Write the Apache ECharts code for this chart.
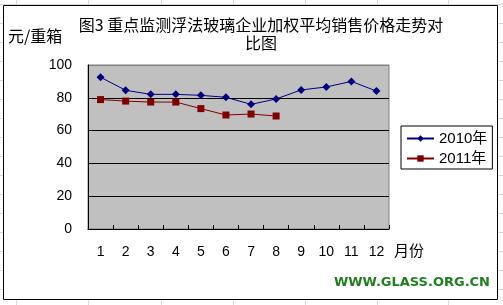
<!DOCTYPE html>
<html><head><meta charset="utf-8">
<script src="https://cdn.jsdelivr.net/npm/echarts@6/dist/echarts.min.js"></script>
<style>html,body{margin:0;padding:0;background:#fff}#c{width:503px;height:305px}</style>
</head><body><div id="c"></div>
<script>
const months = ['1','2','3','4','5','6','7','8','9','10','11','12'];
const series2010 = [92.5,84.6,82.1,82.1,81.5,80.3,76.0,79.3,84.8,86.6,90.0,84.1];
const series2011 = [78.9,78.0,77.4,77.4,73.4,69.5,70.1,68.9];
const seriesNames = ['2010年','2011年'];
const yMin = 0, yMax = 100, yStep = 20;

const FONT = 'Liberation Sans, "Noto Sans CJK SC", sans-serif';
const bg = [];
const rowYs = [4.5,23.5,42.5,61.5,80.5,99.5,118.5,137.5,156.5,175.5,194.5,213.5,232.5,251.5,270.5,289.5];
rowYs.forEach(y => bg.push({type:'line', z:-20, shape:{x1:0,y1:y,x2:503,y2:y}, style:{stroke:'#d8d8d8', lineWidth:1}}));
[16.5,88.5,161.5,233.5,305.5,377.5,448.5].forEach(x => bg.push({type:'line', z:-20, shape:{x1:x,y1:0,x2:x,y2:305}, style:{stroke:'#d8d8d8', lineWidth:1}}));
bg.push({type:'rect', z:-10, shape:{x:3.5,y:5.5,width:494,height:294}, style:{fill:'#fff', stroke:'#000', lineWidth:1}});

const chart = echarts.init(document.getElementById('c'));
chart.setOption({
  animation:false,
  textStyle:{fontFamily:FONT},
  title:{
    text:'图3 重点监测浮法玻璃企业加权平均销售价格走势对\n比图',
    left:256, top:11, textAlign:'center',
    textStyle:{fontSize:16, fontWeight:'normal', color:'#000', lineHeight:18, fontFamily:'"Noto Sans CJK SC", sans-serif'}
  },
  legend:{
    orient:'vertical', left:401, top:126,
    data:seriesNames,
    backgroundColor:'#fff', borderColor:'#000', borderWidth:1, borderRadius:0,
    padding:[5,5,3,5], itemGap:5, itemWidth:27, itemHeight:8,
    textStyle:{fontSize:15, color:'#000', fontFamily:FONT}
  },
  grid:{left:88, right:114, top:65, bottom:76, show:true, backgroundColor:'#c0c0c0', borderColor:'#808080', borderWidth:1},
  xAxis:{
    type:'category', data:months, boundaryGap:true,
    axisLine:{lineStyle:{color:'#000', width:1}},
    axisTick:{show:true, inside:true, length:4, lineStyle:{color:'#000'}},
    axisLabel:{fontSize:14, color:'#000', margin:16, fontFamily:FONT}
  },
  yAxis:{
    type:'value', min:yMin, max:yMax, interval:yStep,
    axisLine:{show:true, lineStyle:{color:'#000', width:1}},
    axisTick:{show:false},
    axisLabel:{fontSize:14, color:'#000', margin:16, fontFamily:FONT},
    splitLine:{show:true, lineStyle:{color:['#000','#000','#000','#000','#000','#808080'], width:1}}
  },
  series:[
    {name:seriesNames[0], type:'line', data:series2010, symbol:'diamond', symbolSize:8,
     itemStyle:{color:'#000080'}, lineStyle:{color:'#000080', width:1}},
    {name:seriesNames[1], type:'line', data:series2011, symbol:'rect', symbolSize:7,
     itemStyle:{color:'#800000'}, lineStyle:{color:'#800000', width:1}}
  ],
  graphic:bg.concat([
    {type:'text', z:100, left:8, top:28, style:{text:'元/重箱', fill:'#000', font:'16px "Noto Sans CJK SC", sans-serif'}},
    {type:'text', z:100, left:394, top:243, style:{text:'月份', fill:'#000', font:'15px "Noto Sans CJK SC", sans-serif'}},
    {type:'text', z:100, right:13, top:276, style:{text:'WWW.GLASS.ORG.CN', fill:'#1f7f1f', font:'bold 13px "DejaVu Sans", sans-serif'}}
  ])
});
</script>
</body></html>
